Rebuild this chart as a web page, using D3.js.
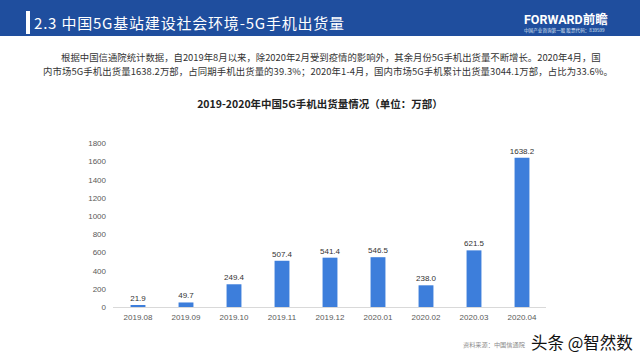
<!DOCTYPE html>
<html><head><meta charset="utf-8">
<script src="https://cdn.jsdelivr.net/npm/d3@7"></script>
<style>body{margin:0;background:#fff}svg{display:block;font-family:"Noto Sans CJK SC","Noto Sans",sans-serif}</style>
</head><body>
<script>
const categories = ['2019.08','2019.09','2019.10','2019.11','2019.12','2020.01','2020.02','2020.03','2020.04'];
const values = [21.9, 49.7, 249.4, 507.4, 541.4, 546.5, 238.0, 621.5, 1638.2];
const yTicks = [0,200,400,600,800,1000,1200,1400,1600,1800];
const headerTitle = '2.3 中国5G基站建设社会环境-5G手机出货量';
const paraLines = ['根据中国信通院统计数据，自2019年8月以来，除2020年2月受到疫情的影响外，其余月份5G手机出货量不断增长。2020年4月，国',
  '内市场5G手机出货量1638.2万部，占同期手机出货量的39.3%；2020年1-4月，国内市场5G手机累计出货量3044.1万部，占比为33.6%。'];
const chartTitle = '2019-2020年中国5G手机出货量情况（单位：万部）';
const sourceText = '资料来源：中国信通院';

const W=640,H=360;
const svg=d3.select('body').append('svg').attr('width',W).attr('height',H);
// header
svg.append('rect').attr('x',0).attr('y',0).attr('width',W).attr('height',36).attr('fill','#1f4e9e');
svg.append('rect').attr('x',26).attr('y',11).attr('width',4).attr('height',23).attr('fill','#fff');
svg.append('text').attr('x',34).attr('y',29).attr('fill','#fff').attr('font-size',15).attr('letter-spacing',0.8).text(headerTitle);
svg.append('text').attr('x',524).attr('y',24).attr('fill','#fff').attr('font-size',12.5).attr('font-weight','bold').attr('font-family','Roboto, "Noto Sans CJK SC"').text('FORWARD前瞻');
svg.append('text').attr('x',524).attr('y',31.5).attr('fill','#dfe6f3').attr('font-size',4.6).text('中国产业咨询第一股  股票代码：839599');

// paragraph
svg.append('text').attr('x',61).attr('y',61).attr('fill','#333').attr('font-size',9.4).text(paraLines[0]);
svg.append('text').attr('x',43).attr('y',75).attr('fill','#333').attr('font-size',9.4).attr('letter-spacing',0.1).text(paraLines[1]);
svg.append('text').attr('x',320).attr('y',108).attr('text-anchor','middle').attr('fill','#222').attr('font-size',10.5).attr('font-weight','bold').text(chartTitle);

// chart
const x=d3.scaleBand().domain(categories).range([114,546]).paddingInner(0.69).paddingOuter(0.345);
const y=d3.scaleLinear().domain([0,1800]).range([307,143]);

svg.append('line').attr('x1',113).attr('x2',546).attr('y1',y(0)+0.5).attr('y2',y(0)+0.5).attr('stroke','#d9d9d9');

const yAxis=svg.append('g').attr('transform','translate(112,0)')
  .call(d3.axisLeft(y).tickValues(yTicks).tickFormat(d3.format('d')).tickSize(0).tickPadding(6));
yAxis.select('.domain').remove();
yAxis.selectAll('text').attr('font-size',8).attr('fill','#595959').attr('font-family','Arial, "Liberation Sans", sans-serif');

const xAxis=svg.append('g').attr('transform',`translate(0,${y(0)})`)
  .call(d3.axisBottom(x).tickSize(0).tickPadding(7));
xAxis.select('.domain').remove();
xAxis.selectAll('text').attr('font-size',8).attr('fill','#595959').attr('font-family','Arial, "Liberation Sans", sans-serif');

const data=categories.map((c,i)=>({c,v:values[i]}));
svg.selectAll('.bar').data(data).enter().append('rect')
  .attr('x',d=>x(d.c)).attr('width',x.bandwidth())
  .attr('y',d=>y(d.v)).attr('height',d=>y(0)-y(d.v)).attr('fill','#3d7edb');
svg.selectAll('.lbl').data(data).enter().append('text')
  .attr('x',d=>x(d.c)+x.bandwidth()/2).attr('y',d=>y(d.v)-4)
  .attr('text-anchor','middle').attr('font-size',8).attr('fill','#333')
  .attr('font-family','Arial, "Liberation Sans", sans-serif')
  .text(d=>d3.format('.1f')(d.v));

// source + watermark
svg.append('text').attr('x',463).attr('y',347).attr('fill','#8c8c8c').attr('font-size',6.2).text(sourceText);
svg.append('text').attr('x',531).attr('y',349).attr('fill','#111').attr('font-size',16.5)
  .attr('stroke','#fff').attr('stroke-width',2).attr('paint-order','stroke').text('头条 @智然数');
</script>
</body></html>
